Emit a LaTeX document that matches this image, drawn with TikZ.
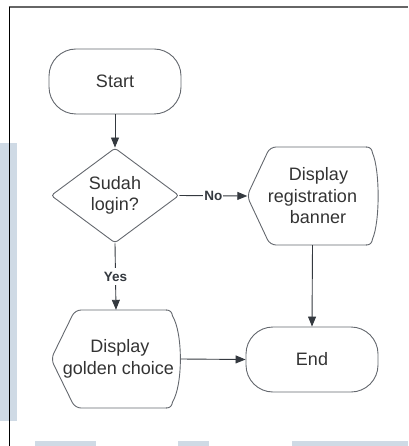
\documentclass[tikz,border=0pt]{standalone}
\usepackage{fontspec}
\setmainfont{Liberation Sans}
\usetikzlibrary{shapes.geometric,arrows.meta}
\definecolor{wm}{RGB}{207,218,229}
\definecolor{edge}{RGB}{100,104,110}
\definecolor{arr}{RGB}{52,57,63}
\definecolor{txt}{RGB}{51,51,51}
\tikzset{
  shapeline/.style={draw=edge, line width=0.9pt},
  lbl/.style={text=txt, font=\fontsize{18}{21.5}\selectfont, align=center},
  term/.style={shapeline, lbl, rounded corners=27pt, minimum width=132pt, minimum height=65pt, inner sep=0pt},
  decision/.style={shapeline, lbl, diamond, rounded corners=3pt, minimum width=128pt, minimum height=95pt, inner sep=0pt},
  dispbox/.style={lbl, minimum width=130pt, minimum height=98pt, inner sep=0pt},
  flow/.style={draw=arr, line width=0.9pt, -{Triangle[length=10pt,width=8pt]}},
  edgelbl/.style={fill=white, text=arr, font=\bfseries\fontsize{13.5}{14}\selectfont, inner sep=1pt},
}
\begin{document}
\begin{tikzpicture}[x=1pt,y=-1pt]
\useasboundingbox (0,0) rectangle (408,446);
% watermark shapes
\fill[wm] (0,143) rectangle (17,421);
\fill[wm] (35,441) rectangle (96,446);
\fill[wm] (178,441) rectangle (209,446);
\fill[wm] (292,441) rectangle (408,446);
% frame
\draw[draw=gray!80!black, line width=1.3pt] (8.5,7) -- (408,7);
\draw[draw=black, line width=1pt] (9,7) -- (9,446);

% nodes
\node[term] (start) at (115,81.5) {Start};
\node[decision] (dec) at (115,195.5) {Sudah\\login?};
\node[dispbox] (reg) at (312.5,196) {\hspace*{12pt}Display\\registration\\\hspace*{11pt}banner};
\node[dispbox] (gold) at (116,359) {\hspace*{8pt}Display\\\hspace*{5pt}golden choice};
\node[term] (end) at (312,359.5) {End};

% display shape outlines
\draw[shapeline, rounded corners=6pt] (367,245) -- (270,245) -- (247,196) -- (270,147) -- (367,147);
\draw[shapeline] (366,147) .. controls (370,147) and (372,149) .. (372.5,153)
  .. controls (380,170) and (380,222) .. (372.5,239)
  .. controls (372,243) and (370,245) .. (366,245);
\draw[shapeline, rounded corners=6pt] (167,408) -- (75,408) -- (51,359) -- (75,310) -- (167,310);
\draw[shapeline] (166,310) .. controls (170,310) and (172,312) .. (172.5,316)
  .. controls (183,333) and (183,385) .. (172.5,402)
  .. controls (172,406) and (170,408) .. (166,408);

% connectors
\draw[flow] (start.south) -- (dec.north);
\draw[flow] (dec.east) -- node[edgelbl]{No} (reg.west);
\draw[flow] (dec.south) -- node[edgelbl, pos=0.5, inner ysep=4pt]{Yes} (gold.north);
\draw[flow] (reg.south) -- (end.north);
\draw[flow] (gold.east) -- (end.west);
\end{tikzpicture}
\end{document}
